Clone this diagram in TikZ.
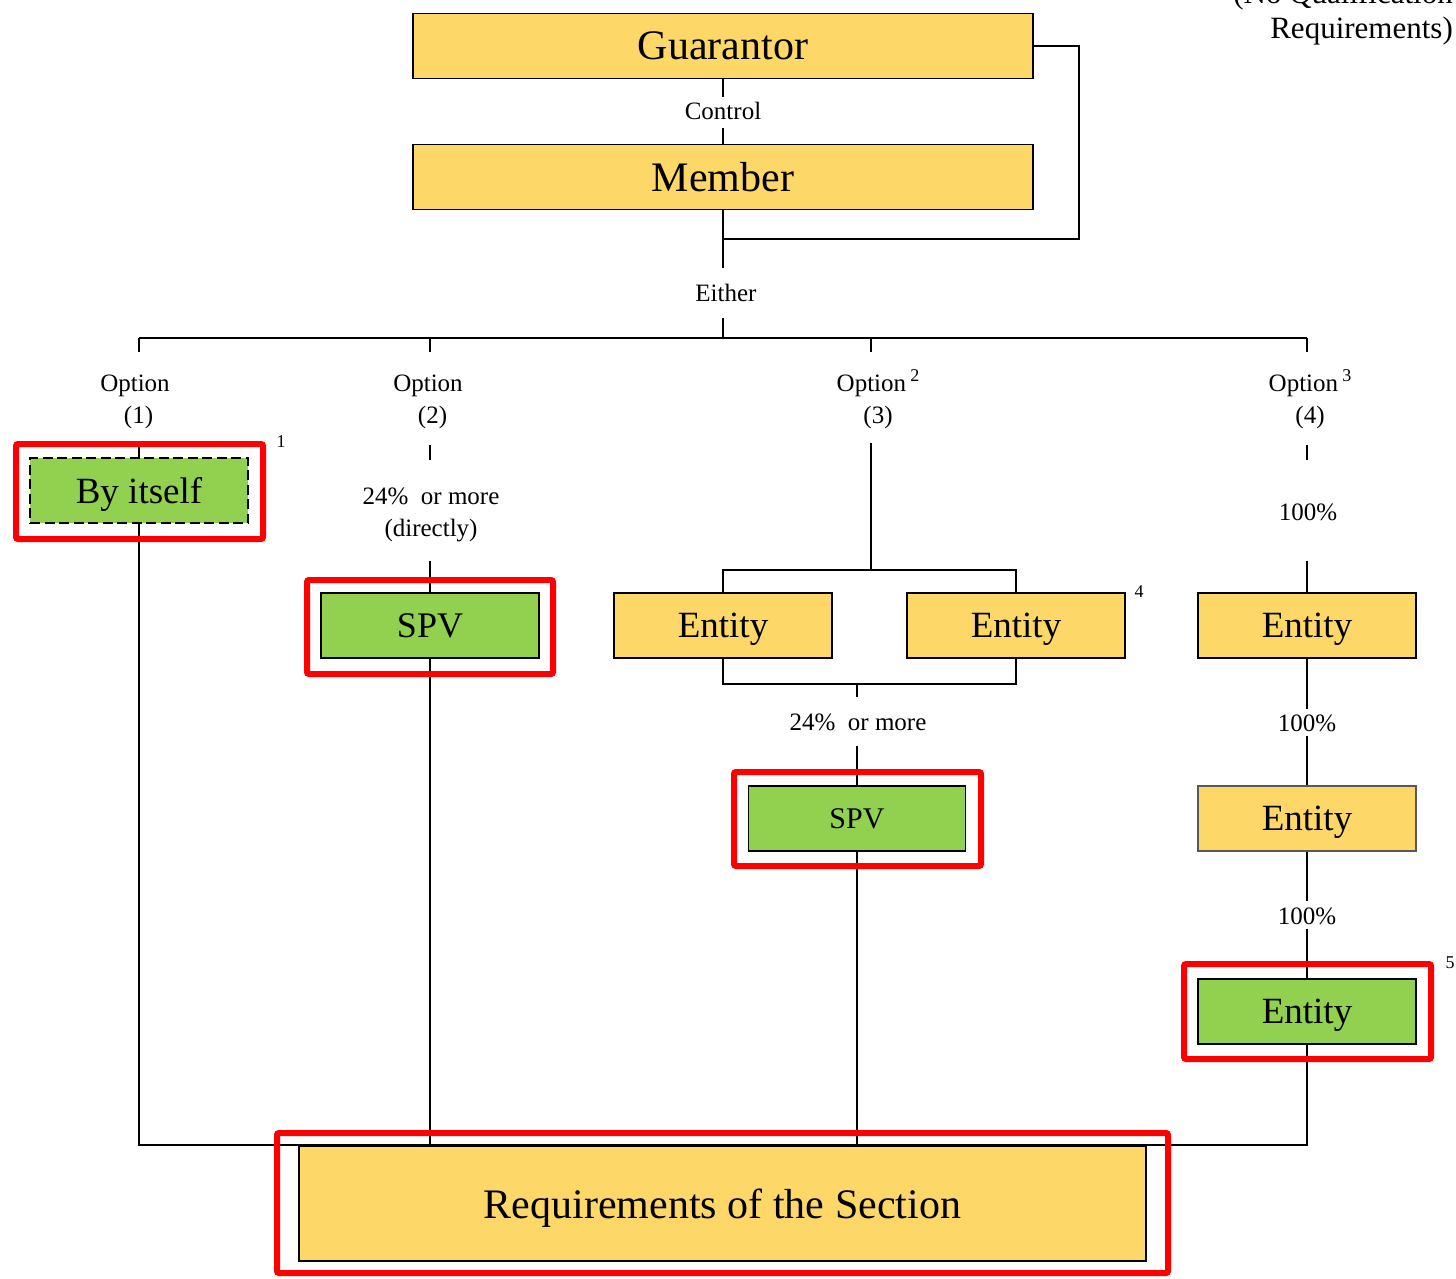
\documentclass[tikz,border=0pt]{standalone}
\usepackage{fontspec}
\setmainfont{Liberation Serif}
\definecolor{yel}{HTML}{FDD868}
\definecolor{grn}{HTML}{92D050}
\definecolor{redf}{HTML}{FF0000}
\begin{document}
\begin{tikzpicture}[x=1pt,y=-1pt,
  box/.style={draw=black, line width=1.6pt, minimum width=218pt, minimum height=65pt, inner sep=0pt, text depth=0pt, font=\fontsize{37}{40}\selectfont},
  yb/.style={box, fill=yel},
  gb/.style={box, fill=grn},
  lbl/.style={font=\fontsize{25}{32}\selectfont, align=center, inner sep=0pt},
  fnote/.style={font=\fontsize{18}{18}\selectfont, inner sep=0pt},
  redframe/.style={draw=redf, line width=6pt, rounded corners=2pt, inner sep=0pt},
  conn/.style={line width=1.6pt}]
\useasboundingbox (0,0) rectangle (1456,1278);

% top-right note
\node[anchor=south east, align=right, inner sep=0pt, font=\fontsize{31}{35}\selectfont] (nq) at (1453,45) {(No Qualification\\Requirements)};

% main boxes
\node[yb, minimum width=620pt, font=\fontsize{42}{44}\selectfont] (guar) at (723,46) {Guarantor};
\node[yb, minimum width=620pt, font=\fontsize{42}{44}\selectfont] (mem) at (723,177) {Member};
\node[lbl] (ctrl) at (723,111) {Control};
\node[lbl] (either) at (726,293) {Either};

\draw[conn] (guar.south) -- ++(0,18);
\draw[conn] (mem.north) -- ++(0,-16);
\coordinate (j) at (723,239);
\draw[conn] (guar.east) -| (1079,239) -- (j);
\draw[conn] (mem.south) -- ++(0,58);
\coordinate (bar) at (723,338);
\coordinate (bl) at (139,338);
\coordinate (br) at (1307,338);
\draw[conn] (bar) -- ++(0,-20);
\draw[conn] (bl) -- (br);
\draw[conn] (bl) -- ++(0,14);
\draw[conn] (430,338) -- ++(0,14);
\draw[conn] (871,338) -- ++(0,14);
\draw[conn] (br) -- ++(0,14);

% option labels
\node[lbl] (o1) at (135,402) {Option\\\hspace*{7pt}(1)};
\node[lbl] (o2) at (428,402) {Option\\\hspace*{9pt}(2)};
\node[lbl] (o3) at (878,399) {Option\,\raisebox{0.42em}{\fontsize{18}{18}\selectfont 2}\\(3)};
\node[lbl] (o4) at (1310,399) {Option\,\raisebox{0.42em}{\fontsize{18}{18}\selectfont 3}\\(4)};

% option 1
\node[gb, dash pattern=on 10pt off 4.5pt] (byit) at (139,490.5) {By itself};
\node[fnote] (fn1) at (281,442) {1};
\draw[conn] (byit.north) -- ++(0,-15);

% option 2
\draw[conn] (430,445) -- (430,460);
\node[lbl] (p2) at (431,514.5) {24\%\ \ or more\\(directly)};
\node[gb, font=\fontsize{36}{40}\selectfont] (spv1) at (430,625.5) {SPV};
\draw[conn] (spv1.north) -- ++(0,-31);

% option 3
\coordinate (o3j) at (871,570);
\draw[conn] (871,443) -- (o3j);
\node[yb] (e1) at (723,625.5) {Entity};
\node[yb] (e2) at (1016,625.5) {Entity};
\node[fnote] (fn4) at (1139,592) {4};
\draw[conn] (e1.north) |- (o3j) -| (e2.north);
\coordinate (o3k) at (857,684);
\draw[conn] (e1.south) |- (o3k) -| (e2.south);
\draw[conn] (o3k) -- ++(0,13);
\node[lbl] (p3) at (858,722) {24\%\ \ or more};
\node[gb, minimum width=217pt, font=\fontsize{30}{34}\selectfont] (spv2) at (857,818.5) {SPV};
\draw[conn] (spv2.north) -- ++(0,-39);

% option 4
\draw[conn] (1307,445) -- (1307,460);
\node[lbl] (p4a) at (1308,512) {100\%};
\node[yb] (e3) at (1307,625.5) {Entity};
\draw[conn] (e3.north) -- ++(0,-31);
\node[lbl] (p4b) at (1307,723) {100\%};
\node[yb, draw=black!65] (e4) at (1307,818.5) {Entity};
\draw[conn] (e3.south) -- ++(0,50);
\draw[conn] (e4.north) -- ++(0,-49);
\node[lbl] (p4c) at (1307,916) {100\%};
\node[gb] (e5) at (1307,1011.5) {Entity};
\node[fnote] (fn5) at (1450,963) {5};
\draw[conn] (e4.south) -- ++(0,49);
\draw[conn] (e5.north) -- ++(0,-49);

% requirements
\node[yb, minimum width=847pt, minimum height=115pt, font=\fontsize{42}{44}\selectfont] (req) at (722.5,1203.5) {Requirements of the Section};
\draw[conn] (byit.south) |- (req.north west) -- (req.north east);
\draw[conn] (spv1.south) -- (spv1.south |- req.north);
\draw[conn] (spv2.south) -- (spv2.south |- req.north);
\draw[conn] (e5.south) |- (req.north east);

% red frames
\node[redframe, minimum width=247pt, minimum height=95pt] (r1) at (139.5,491.5) {};
\node[redframe, minimum width=246pt, minimum height=94pt] (r2) at (430,627) {};
\node[redframe, minimum width=247pt, minimum height=94pt] (r3) at (857.5,819) {};
\node[redframe, minimum width=247pt, minimum height=95pt] (r4) at (1307.5,1011.5) {};
\node[redframe, minimum width=891pt, minimum height=140pt] (r5) at (722.5,1203) {};
\end{tikzpicture}
\end{document}
